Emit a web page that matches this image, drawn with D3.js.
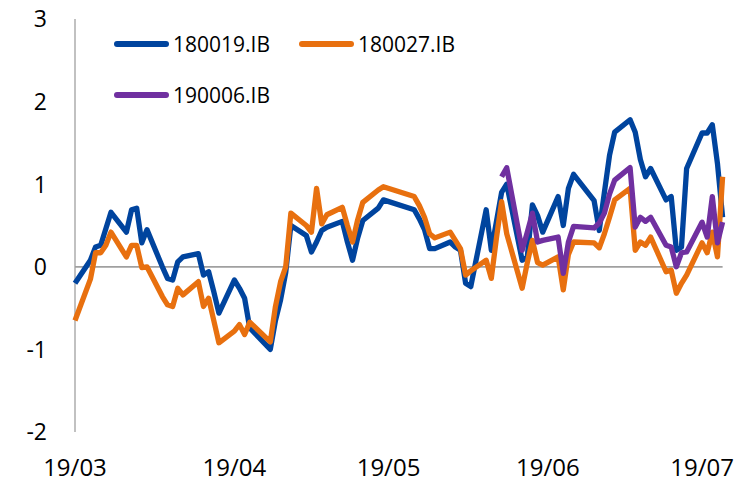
<!DOCTYPE html>
<html>
<head>
<meta charset="utf-8">
<script src="https://cdn.jsdelivr.net/npm/d3@7"></script>
<style>
  html, body { margin: 0; padding: 0; background: #fff; }
  svg { display: block; }
  text { font-family: "Open Sans", "Liberation Sans", sans-serif; fill: #000; }
</style>
</head>
<body>
<svg id="chart" width="741" height="483"></svg>
<script>
// Trading dates
const dates = [
  "2019-03-01","2019-03-04","2019-03-05","2019-03-06","2019-03-07","2019-03-08","2019-03-11","2019-03-12","2019-03-13","2019-03-14","2019-03-15","2019-03-18","2019-03-19","2019-03-20","2019-03-21","2019-03-22","2019-03-25","2019-03-26","2019-03-27","2019-03-28","2019-03-29",
  "2019-04-01","2019-04-02","2019-04-03","2019-04-04","2019-04-08","2019-04-09","2019-04-10","2019-04-11","2019-04-12","2019-04-15","2019-04-16","2019-04-17","2019-04-18","2019-04-19","2019-04-22","2019-04-23","2019-04-24","2019-04-25","2019-04-26","2019-04-29","2019-04-30",
  "2019-05-06","2019-05-07","2019-05-08","2019-05-09","2019-05-10","2019-05-13","2019-05-14","2019-05-15","2019-05-16","2019-05-17","2019-05-20","2019-05-21","2019-05-22","2019-05-23","2019-05-24","2019-05-27","2019-05-28","2019-05-29","2019-05-30","2019-05-31",
  "2019-06-03","2019-06-04","2019-06-05","2019-06-06","2019-06-10","2019-06-11","2019-06-12","2019-06-13","2019-06-14","2019-06-17","2019-06-18","2019-06-19","2019-06-20","2019-06-21","2019-06-24","2019-06-25","2019-06-26","2019-06-27","2019-06-28",
  "2019-07-01","2019-07-02","2019-07-03","2019-07-04","2019-07-05"
];

const seriesNames = ["180019.IB", "180027.IB", "190006.IB"];

const s180019 = [
  -0.2, 0.08, 0.24, 0.26, 0.46, 0.66, 0.42, 0.69, 0.71, 0.29, 0.45, 0.0, -0.14, -0.16, 0.06, 0.12, 0.16, -0.1, -0.06, -0.3, -0.56,
  -0.16, -0.26, -0.38, -0.74, -1.0, -0.65, -0.4, -0.07, 0.5, 0.38, 0.18, 0.3, 0.44, 0.48, 0.55, 0.3, 0.08, 0.35, 0.56, 0.71, 0.81,
  0.69, 0.58, 0.45, 0.22, 0.22, 0.3, 0.24, 0.2, -0.2, -0.24, 0.69, 0.2, 0.55, 0.9, 1.0, 0.08, 0.12, 0.75, 0.62, 0.42,
  0.85, 0.5, 0.95, 1.12, 0.8, 0.44, 0.9, 1.35, 1.63, 1.78, 1.63, 1.3, 1.09, 1.19, 0.81, 0.85, 0.2, 0.24, 1.19,
  1.62, 1.62, 1.72, 1.25, 0.6
];

const s180027 = [
  -0.65, -0.15, 0.17, 0.17, 0.26, 0.42, 0.12, 0.26, 0.26, -0.01, 0.0, -0.36, -0.46, -0.48, -0.26, -0.34, -0.18, -0.48, -0.38, -0.65, -0.92,
  -0.78, -0.7, -0.82, -0.67, -0.91, -0.48, -0.18, 0.0, 0.65, 0.5, 0.42, 0.95, 0.52, 0.63, 0.72, 0.5, 0.3, 0.57, 0.78, 0.93, 0.97,
  0.85, 0.74, 0.6, 0.4, 0.35, 0.42, 0.32, 0.22, -0.1, -0.05, 0.08, -0.14, 0.35, 0.79, 0.4, -0.26, 0.05, 0.32, 0.05, 0.02,
  0.12, -0.28, 0.15, 0.3, 0.29, 0.23, 0.4, 0.6, 0.81, 0.95, 0.2, 0.3, 0.26, 0.36, -0.06, -0.04, -0.32, -0.2, -0.1,
  0.29, 0.17, 0.42, 0.12, 1.09
];

const s190006 = [
  null, null, null, null, null, null, null, null, null, null, null, null, null, null, null, null, null, null, null, null, null,
  null, null, null, null, null, null, null, null, null, null, null, null, null, null, null, null, null, null, null, null, null,
  null, null, null, null, null, null, null, null, null, null, null, null, null, 1.09, 1.2, 0.2, 0.42, 0.65, 0.3, 0.32,
  0.36, -0.08, 0.3, 0.49, 0.47, 0.53, 0.65, 0.88, 1.05, 1.2, 0.48, 0.6, 0.55, 0.6, 0.26, 0.24, 0.0, 0.17, 0.18,
  0.54, 0.36, 0.85, 0.29, 0.54
];

const yTicks = [-2, -1, 0, 1, 2, 3];
const xTickDates = ["2019-03-01", "2019-04-01", "2019-05-01", "2019-06-01", "2019-07-01"];
const xTickLabels = ["19/03", "19/04", "19/05", "19/06", "19/07"];
const colors = ["#00449E", "#E8700F", "#7030A0"];

const parse = d3.timeParse("%Y-%m-%d");
const svg = d3.select("#chart");

const x = d3.scaleTime()
  .domain([parse("2019-03-01"), parse("2019-07-05")])
  .range([75, 722.6]);
const y = d3.scaleLinear().domain([-2, 3]).range([432, 19]);

// Y axis line
svg.append("line")
  .attr("x1", 75).attr("x2", 75)
  .attr("y1", y(3)).attr("y2", y(-2))
  .attr("stroke", "#A0A0A0").attr("stroke-width", 1.3);

// Zero line
svg.append("line")
  .attr("x1", x.range()[0]).attr("x2", x.range()[1])
  .attr("y1", y(0)).attr("y2", y(0))
  .attr("stroke", "#A0A0A0").attr("stroke-width", 1.8);

// Y tick labels
svg.append("g").selectAll("text").data(yTicks).join("text")
  .attr("x", 47)
  .attr("y", d => y(d) + 8.3)
  .attr("text-anchor", "end")
  .style("font-size", "23px")
  .text(d => d);

// X tick labels
svg.append("g").selectAll("text").data(xTickDates).join("text")
  .attr("x", d => x(parse(d)))
  .attr("y", 476)
  .attr("text-anchor", "middle")
  .style("font-size", "24px")
  .text((d, i) => xTickLabels[i]);

// Lines
const allSeries = [s180019, s180027, s190006];
const line = d3.line()
  .defined(d => d.v !== null)
  .x(d => x(d.date))
  .y(d => y(d.v));

allSeries.forEach((vals, si) => {
  const data = dates.map((d, i) => ({ date: parse(d), v: vals[i] }));
  svg.append("path")
    .datum(data)
    .attr("d", line)
    .attr("fill", "none")
    .attr("stroke", colors[si])
    .attr("stroke-width", 5.3)
    .attr("stroke-linejoin", "round")
    .attr("stroke-linecap", "butt");
});

// Legend
const legendPos = [
  { lx: 115, ly: 44 },
  { lx: 300, ly: 44 },
  { lx: 115, ly: 95 }
];
const lg = svg.append("g");
seriesNames.forEach((name, i) => {
  const p = legendPos[i];
  lg.append("line")
    .attr("x1", p.lx + 2).attr("x2", p.lx + 51)
    .attr("y1", p.ly).attr("y2", p.ly)
    .attr("stroke", colors[i]).attr("stroke-width", 6)
    .attr("stroke-linecap", "round");
  lg.append("text")
    .attr("x", p.lx + 58)
    .attr("y", p.ly + 7.5)
    .style("font-size", "21px")
    .text(name);
});
</script>
</body>
</html>
